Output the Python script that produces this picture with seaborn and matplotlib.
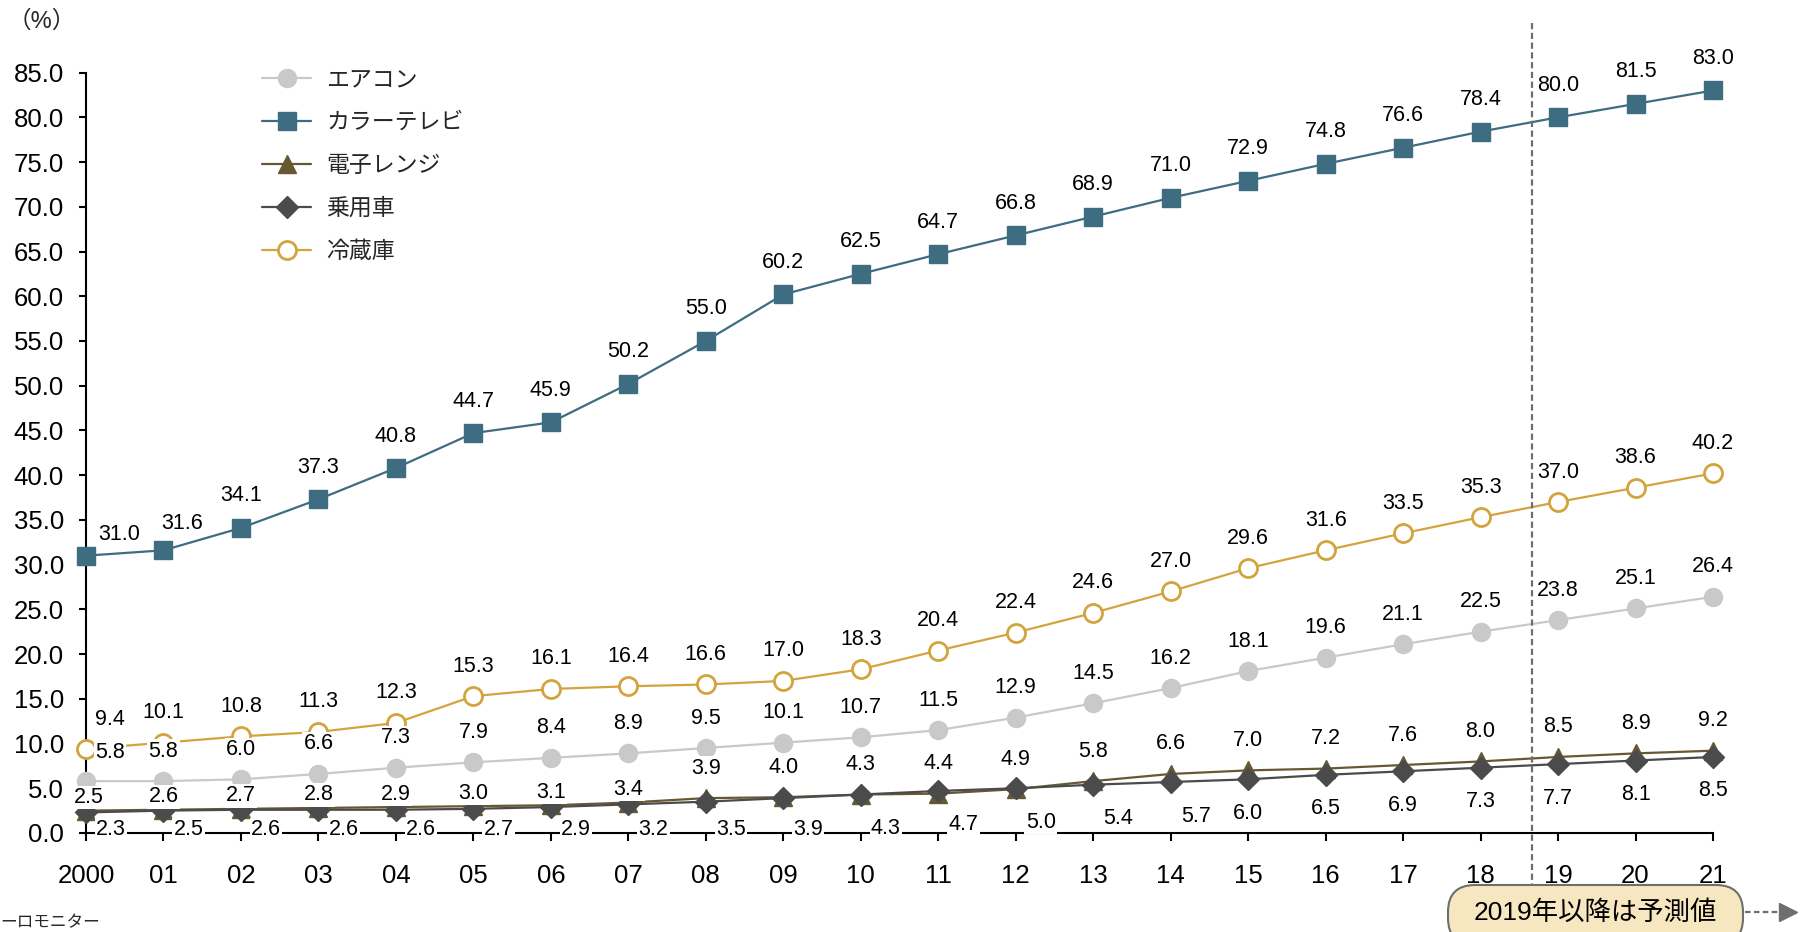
import numpy as np
import pandas as pd
import seaborn as sns
import matplotlib.pyplot as plt
import matplotlib.transforms as mtransforms
from matplotlib.patches import FancyBboxPatch
from matplotlib.lines import Line2D

# ---------------- data ----------------
years = list(range(2000, 2022))
year_labels = ["2000"] + [f"{y % 100:02d}" for y in years[1:]]

aircon = [5.8, 5.8, 6.0, 6.6, 7.3, 7.9, 8.4, 8.9, 9.5, 10.1, 10.7,
          11.5, 12.9, 14.5, 16.2, 18.1, 19.6, 21.1, 22.5, 23.8, 25.1, 26.4]
color_tv = [31.0, 31.6, 34.1, 37.3, 40.8, 44.7, 45.9, 50.2, 55.0, 60.2, 62.5,
            64.7, 66.8, 68.9, 71.0, 72.9, 74.8, 76.6, 78.4, 80.0, 81.5, 83.0]
microwave = [2.5, 2.6, 2.7, 2.8, 2.9, 3.0, 3.1, 3.4, 3.9, 4.0, 4.3,
             4.4, 4.9, 5.8, 6.6, 7.0, 7.2, 7.6, 8.0, 8.5, 8.9, 9.2]
car = [2.3, 2.5, 2.6, 2.6, 2.6, 2.7, 2.9, 3.2, 3.5, 3.9, 4.3,
       4.7, 5.0, 5.4, 5.7, 6.0, 6.5, 6.9, 7.3, 7.7, 8.1, 8.5]
fridge = [9.4, 10.1, 10.8, 11.3, 12.3, 15.3, 16.1, 16.4, 16.6, 17.0, 18.3,
          20.4, 22.4, 24.6, 27.0, 29.6, 31.6, 33.5, 35.3, 37.0, 38.6, 40.2]

series_names = ["エアコン", "カラーテレビ", "電子レンジ", "乗用車", "冷蔵庫"]
series_values = [aircon, color_tv, microwave, car, fridge]
y_ticks = list(range(0, 90, 5))
forecast_from = 18.67  # position of the forecast divider (between 18 and 19)
note_text = "2019年以降は予測値"
source_text = "ーロモニター"
unit_text = "（%）"

rows = []
for name, vals in zip(series_names, series_values):
    for i, v in enumerate(vals):
        rows.append({"series": name, "idx": i, "value": v})
df = pd.DataFrame(rows)

# ---------------- style ----------------
sns.set_theme(style="ticks")
plt.rcParams["font.family"] = ["Liberation Sans", "Noto Sans CJK JP", "DejaVu Sans"]

W, H = 1808, 932
fig = plt.figure(figsize=(W / 100, H / 100), dpi=100)
ax = fig.add_axes([86 / W, 1 - 833 / H, (1713 - 86) / W, (833 - 72.6) / H])

styles = {
    "エアコン":   dict(color="#C9C9C9", marker="o", ms=13, mfc="#C9C9C9", mec="#C9C9C9", mew=1.0),
    "カラーテレビ": dict(color="#3E6D81", marker="s", ms=13, mfc="#3E6D81", mec="#3E6D81", mew=1.0),
    "電子レンジ":  dict(color="#675834", marker="^", ms=13, mfc="#675834", mec="#675834", mew=1.0),
    "乗用車":    dict(color="#4B4B4B", marker="D", ms=11, mfc="#4B4B4B", mec="#4B4B4B", mew=1.0),
    "冷蔵庫":    dict(color="#D3A43E", marker="o", ms=13, mfc="white", mec="#D3A43E", mew=2.0),
}

for name in series_names:
    st = styles[name]
    sub = df[df["series"] == name]
    sns.lineplot(data=sub, x="idx", y="value", ax=ax, color=st["color"],
                 marker=st["marker"], markersize=st["ms"],
                 markerfacecolor=st["mfc"], markeredgecolor=st["mec"],
                 markeredgewidth=st["mew"], linewidth=1.6, label=name,
                 clip_on=False, zorder=3)

# ---------------- data labels ----------------
PX = 0.72  # points per pixel at 100 dpi
lab_kw = dict(ha="center", va="center", fontsize=15.5, color="black", zorder=6,
              bbox=dict(facecolor="white", edgecolor="none", pad=1.0),
              annotation_clip=False)

def above_offsets(name, i):
    dx, dy = 0, 30
    if name == "カラーテレビ":
        dy = 32
        if i == 0:
            dx, dy = 33, 21
        elif i == 1:
            dx, dy = 19, 27
    elif name in ("エアコン", "冷蔵庫"):
        if i == 0:
            dx, dy = 24, 29
    elif name == "電子レンジ":
        dy = 13 if i < 8 else 30
        if i == 0:
            dx = 3
    return dx, dy

for name, vals in zip(series_names, series_values):
    for i, v in enumerate(vals):
        if name == "乗用車":
            y_lab = max(v - 3.8, 0.35)
            dx = 25 if i <= 14 else 0
            ax.annotate(f"{v:.1f}", xy=(i, y_lab), xytext=(dx * PX, 0),
                        textcoords="offset points", **lab_kw)
        else:
            dx, dy = above_offsets(name, i)
            ax.annotate(f"{v:.1f}", xy=(i, v), xytext=(dx * PX, dy * PX),
                        textcoords="offset points", **lab_kw)

# ---------------- axes ----------------
ax.set_xlim(0, 21)
ax.set_ylim(0, 85)
ax.set_xticks(range(len(years)))
ax.set_xticklabels(year_labels)
ax.set_yticks(y_ticks)
ax.set_yticklabels([f"{t:.1f}" for t in y_ticks])
ax.set_xlabel("")
ax.set_ylabel("")
sns.despine(ax=ax)
for sp in ("left", "bottom"):
    ax.spines[sp].set_linewidth(1.5)
    ax.spines[sp].set_color("black")
ax.tick_params(axis="y", direction="out", length=5, width=1.5, color="black",
               labelsize=18.5, pad=11, labelcolor="black")
ax.tick_params(axis="x", direction="out", length=6, width=1.5, color="black",
               labelsize=18.5, pad=16, labelcolor="black")
ax.grid(False)

# legend
handles, labels = ax.get_legend_handles_labels()
leg = ax.legend(handles, labels, loc="upper left",
                bbox_to_anchor=(262 / W, 1 - 68 / H), bbox_transform=fig.transFigure,
                frameon=False, fontsize=16.5, handlelength=2.15, handletextpad=0.65,
                labelspacing=0.87, borderpad=0, borderaxespad=0)

# forecast divider
trans = mtransforms.blended_transform_factory(ax.transData, fig.transFigure)
fig.add_artist(Line2D([forecast_from, forecast_from], [1 - 23 / H, 1 - 885 / H],
                      transform=trans, color="#6E6E6E", lw=1.6,
                      dashes=(2.8, 1.6), clip_on=False, zorder=1))

# note box
box = FancyBboxPatch((14.48, (H - 945) / 100), 2.95, 0.60,
                     boxstyle="round,pad=0,rounding_size=0.27",
                     transform=fig.dpi_scale_trans, facecolor="#F7E7C1",
                     edgecolor="#6E6E6E", lw=1.5, clip_on=False, zorder=5)
fig.add_artist(box)
fig.text(1595 / W, 1 - 912 / H, note_text, ha="center", va="center",
         fontsize=19, color="black", zorder=6)
fig.add_artist(Line2D([1745 / W, 1784 / W], [1 - 912 / H, 1 - 912 / H],
                      transform=fig.transFigure, color="#6E6E6E", lw=1.6,
                      dashes=(2.5, 1.5), zorder=5))
fig.add_artist(Line2D([1788 / W], [1 - 912 / H], transform=fig.transFigure,
                      marker=">", markersize=13, color="#6E6E6E", lw=0, zorder=5))

# unit and source
fig.text(8 / W, 1 - 22 / H, unit_text, ha="left", va="center", fontsize=17)
fig.text(0, 2 / H, source_text, ha="left", va="bottom", fontsize=12)

fig.savefig("out.png", dpi=100)
